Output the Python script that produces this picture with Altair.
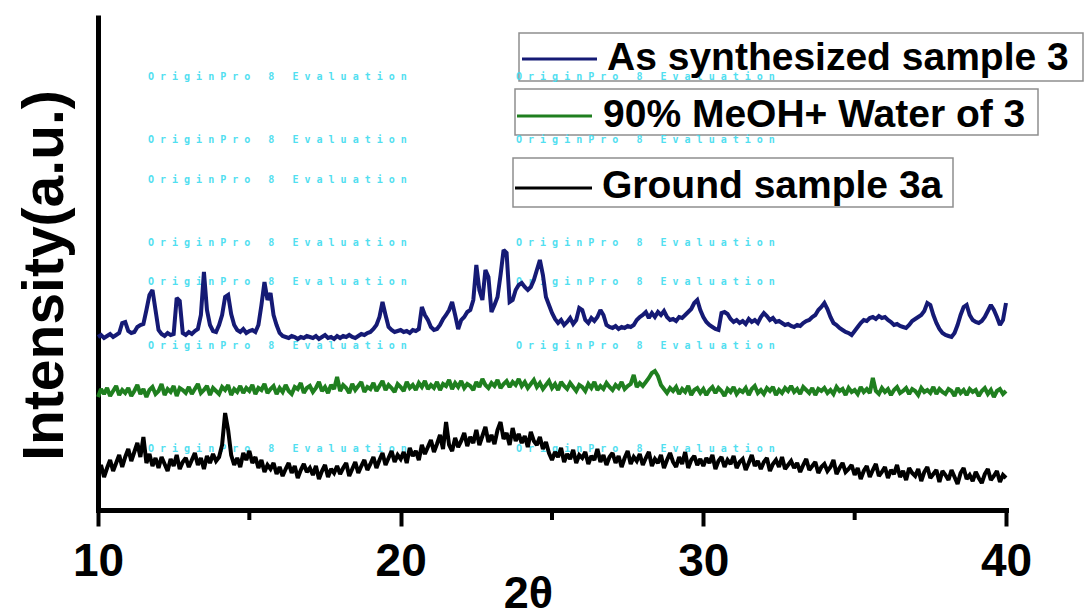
import altair as alt
import pandas as pd

# 2-theta sampling positions (degrees)
THETA = [round(10 + 0.1 * i, 1) for i in range(301)]

# Intensities (arbitrary units, offset traces)
BLUE = [
    178, 180, 177, 179, 181, 178, 180, 182, 192, 193,
    184, 182, 183, 188, 190, 191, 205, 220, 225, 205,
    185, 181, 179, 182, 180, 181, 217, 214, 182, 180,
    183, 181, 184, 186, 200, 243, 205, 190, 184, 183,
    190, 200, 218, 220, 201, 190, 185, 183, 186, 182,
    184, 185, 183, 190, 210, 233, 215, 222, 200, 190,
    182, 179, 178, 177, 179, 178, 176, 178, 177, 179,
    178, 177, 179, 176, 178, 180, 177, 178, 176, 179,
    177, 179, 178, 180, 178, 177, 179, 181, 180, 182,
    183, 186, 190, 198, 213, 200, 188, 185, 183, 184,
    185, 183, 184, 182, 185, 184, 186, 208, 200, 195,
    188, 185, 186, 190, 196, 200, 205, 213, 200, 186,
    195, 198, 203, 205, 215, 250, 225, 215, 245, 238,
    203, 210, 218, 240, 265, 262, 213, 215, 225, 230,
    232, 228, 225, 228, 235, 245, 255, 240, 218, 210,
    202, 196, 192, 195, 190, 193, 197, 191, 195, 207,
    205, 195, 192, 197, 194, 198, 205, 200, 190, 188,
    187, 189, 186, 188, 187, 189, 188, 190, 195, 198,
    200, 203, 197, 202, 198, 203, 200, 204, 198, 195,
    196, 194, 198, 197, 200, 203, 206, 212, 215, 205,
    198, 193, 190, 188, 186, 185, 202, 203, 201, 196,
    193, 195, 192, 194, 191, 196, 193, 195, 192, 198,
    202, 199, 195, 197, 193, 194, 192, 190, 191, 189,
    188, 190, 189, 192, 194, 195, 198, 200, 205, 208,
    212, 206, 198, 192, 190, 187, 185, 183, 182, 180,
    184, 188, 192, 195, 194, 197, 198, 196, 199, 197,
    198, 195, 193, 190, 191, 189, 188, 187, 190, 194,
    196, 198, 200, 204, 212, 210, 200, 192, 186, 182,
    180, 179, 178, 182, 190, 200, 208, 210, 200, 195,
    193, 192, 194, 198, 204, 210, 205, 198, 190, 195,
    212,
]

GREEN = [
    118, 126, 121, 127, 119, 124, 129, 120, 125, 122,
    127, 119, 124, 130, 121, 126, 118, 125, 128, 121,
    124, 131, 120, 126, 123, 129, 119, 127, 125, 122,
    128, 121, 126, 131, 122, 125, 129, 120, 127, 124,
    121, 128, 125, 130, 120, 126, 123, 129, 122, 127,
    124, 130, 121, 127, 125, 131, 122, 126, 129, 121,
    127, 123, 130, 124, 121, 128, 126, 132, 122, 127,
    129, 123, 127, 133, 124, 128, 122, 130, 126, 138,
    124, 130, 127, 122, 131, 125, 129, 133, 123, 128,
    126, 132, 124, 129, 134, 125, 130, 127, 123, 131,
    128, 124, 133, 127, 130, 125, 132, 128, 134, 126,
    130, 127, 133, 125, 131, 129, 135, 126, 132, 128,
    134, 127, 131, 129, 125, 133, 128, 136, 130, 127,
    132, 129, 135, 127, 131, 134, 128, 133, 130, 136,
    129, 133, 127, 131, 135, 128, 132, 126, 130, 134,
    127, 131, 125, 133, 129, 126, 132, 128, 124, 130,
    128, 124, 131, 127, 133, 125, 129, 126, 132, 128,
    125, 130, 127, 133, 126, 129, 131, 140, 128, 132,
    129, 133, 137, 142, 144, 139, 130, 126, 122, 127,
    124, 128, 121, 126, 123, 129, 120, 125, 127, 122,
    126, 120, 125, 128, 122, 127, 124, 119, 126, 123,
    128, 121, 125, 123, 127, 120, 126, 129, 122, 125,
    121, 127, 124, 128, 120, 125, 122, 127, 124, 129,
    123, 126, 121, 128, 125, 122, 127, 120, 126, 124,
    127, 122, 125, 121, 128, 124, 126, 120, 127, 123,
    125, 121, 128, 123, 126, 122, 137, 124, 121, 127,
    123, 126, 120, 125, 128, 122, 124, 127, 121, 126,
    124, 120, 127, 123, 125, 122, 128, 121, 126, 123,
    121, 126, 124, 119, 127, 122, 125, 120, 126, 123,
    125, 119, 124, 127, 121, 125, 118, 124, 126, 121,
    124,
]

BLACK = [
    40, 50, 38, 47, 55, 44, 52, 60, 48, 58,
    66, 54, 63, 72, 58, 78, 52, 61, 49, 57,
    47, 58, 51, 44, 56, 49, 60, 46, 53, 57,
    48, 55, 62, 50, 57, 46, 59, 52, 61, 54,
    58, 70, 102, 85, 60, 50, 57, 48, 62, 55,
    64, 52, 58, 47, 55, 43, 50, 46, 52, 41,
    48, 39, 46, 52, 42, 49, 37, 45, 51, 43,
    47, 40, 49, 36, 44, 50, 38, 46, 42, 49,
    41, 47, 52, 39, 46, 53, 42, 49, 55, 45,
    51, 58, 47, 55, 62, 50, 57, 64, 53, 60,
    56, 63, 52, 67, 59, 64, 55, 70, 61, 68,
    75, 63, 71, 80, 66, 93, 70, 64, 77, 68,
    74, 82, 69, 78, 72, 85, 70, 79, 88, 73,
    80, 71, 85, 93, 76, 82, 70, 87, 74, 81,
    72, 79, 68, 83, 74, 70, 78, 66, 73, 62,
    55, 63, 58, 67, 53, 61, 56, 65, 52, 60,
    57, 63, 51, 59, 55, 66, 53, 60, 50, 58,
    62, 52, 59, 48, 57, 64, 51, 58, 54, 61,
    50, 57, 63, 49, 56, 52, 60, 47, 55, 62,
    53, 48, 58, 51, 63, 47, 55, 59, 50, 56,
    49, 57, 52, 60, 46, 54, 58, 48, 55, 51,
    59, 47, 53, 56, 45, 52, 60, 49, 54, 46,
    53, 57, 44, 51, 55, 48, 58, 46, 50, 54,
    47, 52, 43, 50, 56, 45, 49, 53, 42, 48,
    51, 44, 48, 55, 41, 47, 52, 43, 46, 50,
    40, 47, 36, 44, 49, 38, 45, 51, 39, 43,
    48, 37, 45, 41, 50, 38, 44, 35, 47, 42,
    39, 46, 34, 43, 48, 37, 41, 45, 33, 44,
    40, 35, 45, 38, 31, 42, 47, 36, 40, 34,
    43, 37, 32, 41, 46, 35, 39, 44, 33, 40,
    37,
]

SERIES = ["As synthesized sample 3", "90% MeOH+ Water of 3", "Ground sample 3a"]
COLORS = ["#151a75", "#1f7f1f", "#000000"]

X_TICKS = [10, 20, 30, 40]
MINOR_TICKS = [15, 25, 35]

# Watermark text of the original image
NB = "\u00a0"
WM_LABEL = NB.join(list("OriginPro")) + NB * 3 + "8" + NB * 3 + NB.join(list("Evaluation"))
WM_THETA = [11.65, 23.81, 11.65, 23.81, 11.65, 11.65, 23.81, 11.65, 23.81, 11.65, 23.81, 11.65, 23.81]
WM_H = [438, 438, 375, 375, 335, 272, 272, 233, 233, 169, 169, 66, 66]

FONT = "Liberation Sans"

df = pd.DataFrame({
    "theta": THETA * 3,
    "h": BLUE + GREEN + BLACK,
    "series": [s for s in SERIES for _ in THETA],
})
wm_df = pd.DataFrame({"theta": WM_THETA, "h": WM_H, "label": [WM_LABEL] * len(WM_H)})
minor_df = pd.DataFrame({"theta": MINOR_TICKS})

xscale = alt.Scale(domain=[10, 40], nice=False, zero=False)
yscale = alt.Scale(domain=[5, 500], nice=False, zero=False)

X_AXIS = alt.Axis(
    values=X_TICKS, format="d", grid=False,
    domainWidth=5, domainColor="black", domainCap="square",
    tickSize=16, tickWidth=4, tickColor="black",
    labelFont=FONT, labelFontSize=46, labelFontWeight="bold", labelColor="black",
    labelBaseline="alphabetic", labelPadding=49, labelFlush=False, labelOverlap=False,
    title="2θ", titleFont=FONT, titleFontSize=45, titleFontWeight="bold", titleColor="black",
    titleX=430, titleY=97, titleBaseline="alphabetic", titleAlign="center",
)
Y_AXIS = alt.Axis(
    ticks=False, labels=False, grid=False,
    domainWidth=5, domainColor="black",
    title="Intensity(a.u.)", titleFont=FONT, titleFontSize=57, titleFontWeight="bold",
    titleColor="black", titleAngle=270, titleX=-36, titleY=260,
    titleBaseline="alphabetic", titleAlign="center",
)

X = lambda f: alt.X(f"{f}:Q", scale=xscale, axis=X_AXIS)
Y = lambda f: alt.Y(f"{f}:Q", scale=yscale, axis=Y_AXIS)

one = pd.DataFrame({"a": [0]})

# legend geometry (plot-relative pixels)
LEG_BOX = [(421, 985, 18, 66), (417, 940, 74, 120), (415, 855, 143, 192)]
LEG_LINE = [(424, 499, 44), (419, 494, 101), (417, 494, 173)]
LEG_TEXT = [(509, 55), (505, 112), (504, 183)]

boxes = []
keys = []
for i, s in enumerate(SERIES):
    x0, x1, y0, y1 = LEG_BOX[i]
    boxes.append(
        alt.Chart(one).mark_rect(fill="white", stroke="#8e8e8e", strokeWidth=1.5).encode(
            x=alt.value(x0), x2=alt.value(x1), y=alt.value(y0), y2=alt.value(y1))
    )
    lx0, lx1, ly = LEG_LINE[i]
    keys.append(
        alt.Chart(one).mark_rule(color=COLORS[i], strokeWidth=3).encode(
            x=alt.value(lx0), x2=alt.value(lx1), y=alt.value(ly))
    )
    tx, ty = LEG_TEXT[i]
    keys.append(
        alt.Chart(one).mark_text(text=s, align="left", baseline="alphabetic", font=FONT,
                                 fontSize=39, fontWeight="bold", color="black").encode(
            x=alt.value(tx), y=alt.value(ty))
    )

watermark = alt.Chart(wm_df).mark_text(
    align="left", baseline="middle", font="DejaVu Sans Mono", fontSize=10,
    fontWeight="bold", color="#3fdcef", opacity=0.9,
).encode(x=X("theta"), y=Y("h"), text="label:N")

lines = alt.Chart(df).mark_line(strokeWidth=4, strokeJoin="miter", strokeMiterLimit=2).encode(
    x=X("theta"), y=Y("h"),
    color=alt.Color("series:N", scale=alt.Scale(domain=SERIES, range=COLORS), legend=None),
    order=alt.Order("theta:Q"),
)

minor = alt.Chart(minor_df).mark_rule(color="black", strokeWidth=4).encode(
    x=X("theta"), y=alt.value(495), y2=alt.value(505))

chart = alt.layer(*boxes, watermark, lines, minor, *keys).properties(
    width=908, height=495,
    background="white",
    autosize=alt.AutoSizeParams(type="none"),
    padding={"left": 98, "top": 15, "right": 79, "bottom": 106},
).configure_view(stroke=None)

chart.save("out.html", embed_options={"renderer": "svg", "actions": False})
